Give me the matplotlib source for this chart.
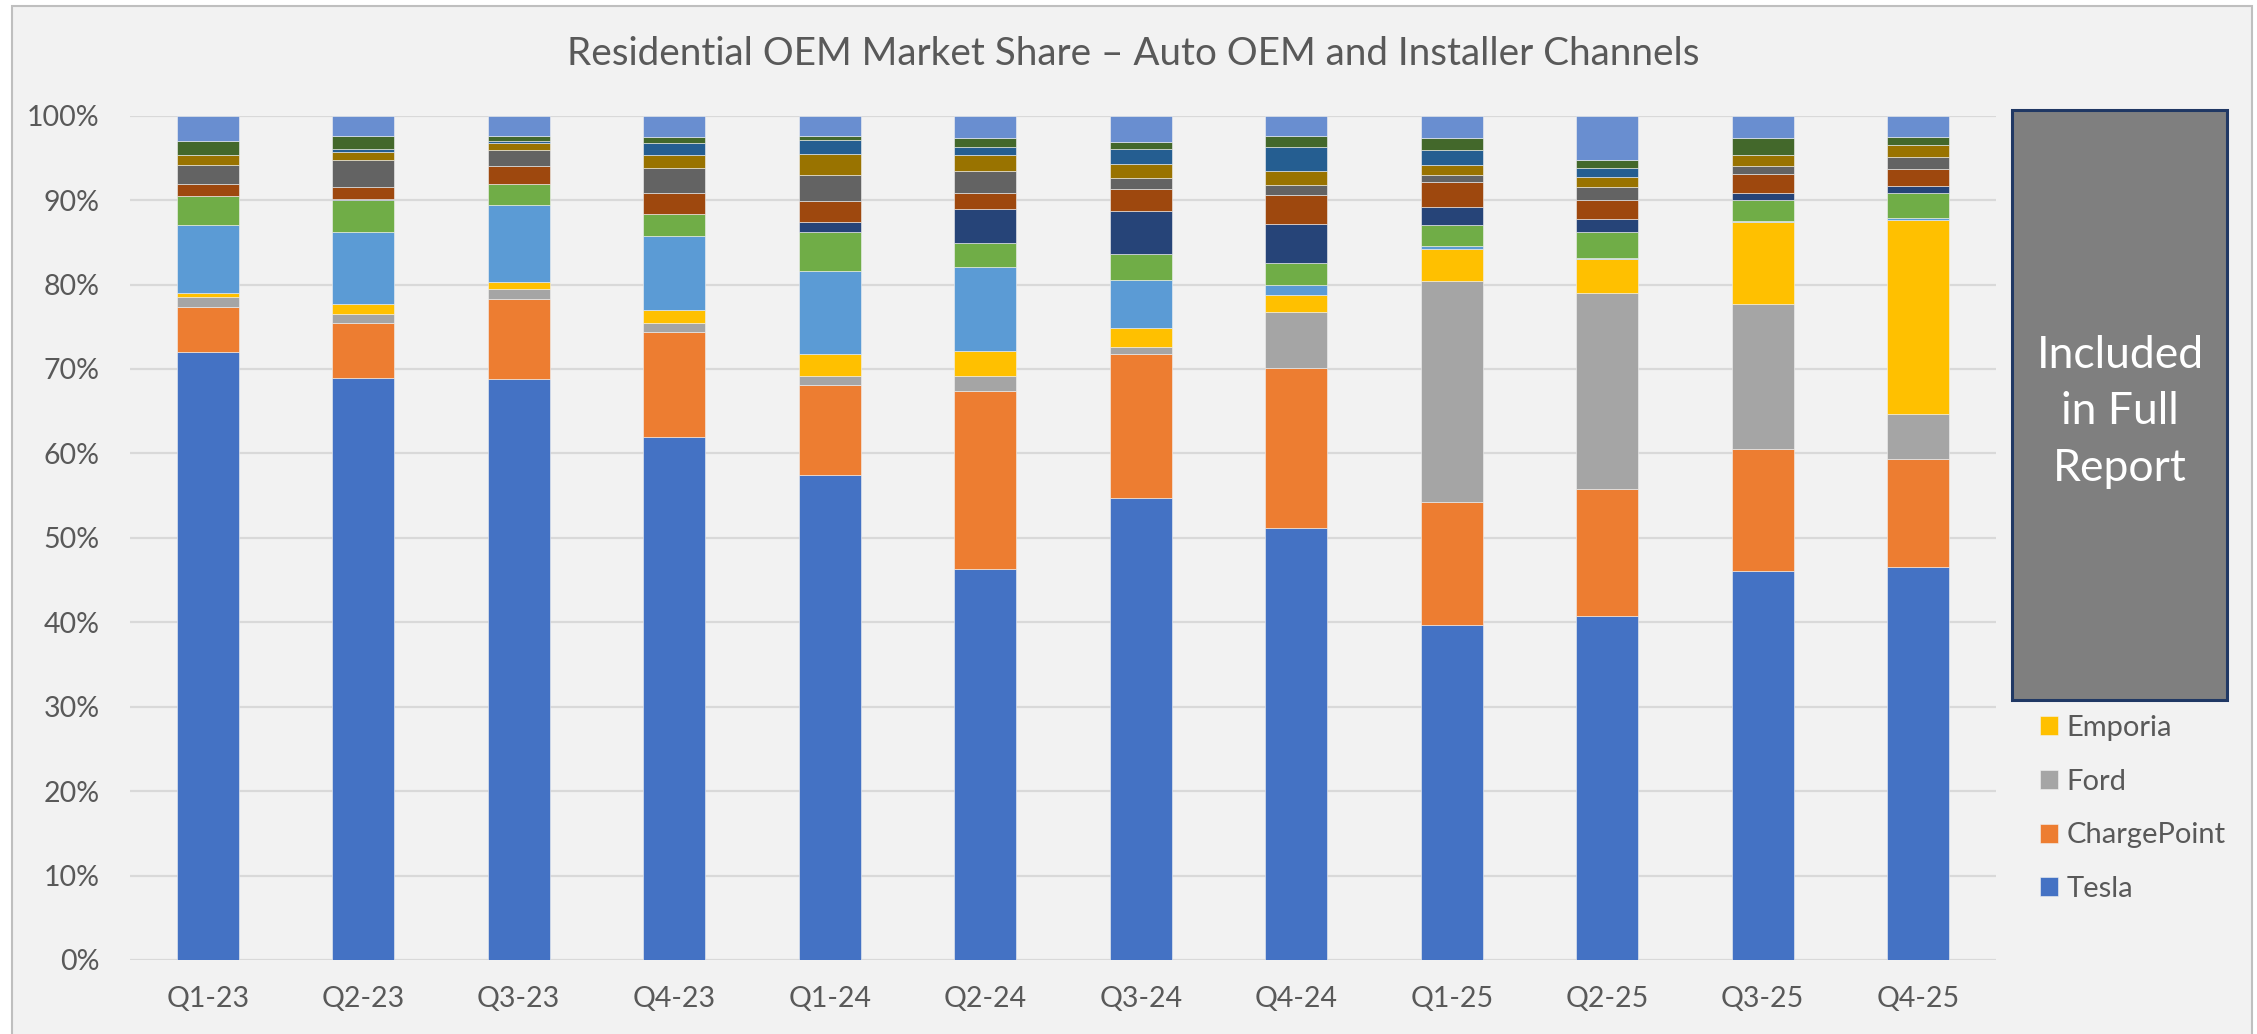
import matplotlib
matplotlib.use("Agg")
import matplotlib.pyplot as plt
from matplotlib.patches import Rectangle
import numpy as np

plt.rcParams['font.family'] = ['Lato', 'DejaVu Sans']

quarters = ["Q1-23", "Q2-23", "Q3-23", "Q4-23", "Q1-24", "Q2-24",
            "Q3-24", "Q4-24", "Q1-25", "Q2-25", "Q3-25", "Q4-25"]

# shares in %, bottom to top
tesla       = [72.0, 68.9, 68.8, 61.9, 57.4, 46.3, 54.7, 51.2, 39.7, 40.8, 46.1, 46.6]
chargepoint = [5.4, 6.6, 9.5, 12.5, 10.7, 21.1, 17.1, 18.9, 14.5, 15.0, 14.4, 12.7]
ford        = [1.1, 1.0, 1.2, 1.1, 1.1, 1.8, 0.8, 6.6, 26.2, 23.2, 17.2, 5.4]
emporia     = [0.5, 1.2, 0.8, 1.5, 2.6, 2.9, 2.3, 2.1, 3.8, 4.0, 9.7, 23.0]
# remaining OEMs (hidden behind the "full report" box in the legend)
oem_5  = [8.1, 8.5, 9.1, 8.8, 9.8, 10.0, 5.6, 1.2, 0.4, 0.2, 0.1, 0.2]
oem_6  = [3.4, 3.8, 2.5, 2.5, 4.6, 2.8, 3.1, 2.5, 2.5, 3.0, 2.5, 3.0]
oem_7  = [0.0, 0.1, 0.0, 0.0, 1.2, 4.1, 5.1, 4.7, 2.1, 1.6, 0.9, 0.8]
oem_8  = [1.4, 1.4, 2.1, 2.5, 2.5, 1.9, 2.6, 3.4, 2.9, 2.2, 2.2, 2.0]
oem_9  = [2.3, 3.2, 1.9, 3.0, 3.1, 2.6, 1.3, 1.2, 0.9, 1.5, 1.0, 1.4]
oem_10 = [1.1, 1.0, 0.9, 1.6, 2.5, 1.8, 1.7, 1.6, 1.2, 1.2, 1.2, 1.4]
oem_11 = [0.1, 0.3, 0.2, 1.4, 1.6, 1.0, 1.7, 2.9, 1.7, 1.1, 0.0, 0.0]
oem_12 = [1.6, 1.6, 0.6, 0.7, 0.5, 1.0, 0.9, 1.3, 1.5, 1.0, 2.0, 1.0]
oem_13 = [3.0, 2.4, 2.4, 2.5, 2.4, 2.7, 3.1, 2.4, 2.6, 5.2, 2.7, 2.5]

series = [
    ("Tesla", tesla, "#4472C4"),
    ("ChargePoint", chargepoint, "#ED7D31"),
    ("Ford", ford, "#A5A5A5"),
    ("Emporia", emporia, "#FFC000"),
    ("OEM 5", oem_5, "#5B9BD5"),
    ("OEM 6", oem_6, "#70AD47"),
    ("OEM 7", oem_7, "#264478"),
    ("OEM 8", oem_8, "#9E480E"),
    ("OEM 9", oem_9, "#636363"),
    ("OEM 10", oem_10, "#997300"),
    ("OEM 11", oem_11, "#255E91"),
    ("OEM 12", oem_12, "#43682B"),
    ("OEM 13", oem_13, "#698ED0"),
]

txt = "#595959"
W, H = 2257, 1034
fig = plt.figure(figsize=(W / 100, H / 100), dpi=100, facecolor="white")

# chart area background + border
fig.patches.append(Rectangle((12 / W, -0.01), (2252 - 12) / W, 1 - 6 / H + 0.01,
                             transform=fig.transFigure, facecolor="#F2F2F2",
                             edgecolor="#BFBFBF", lw=1.5, zorder=-5))

ax = fig.add_axes([130 / W, 1 - 960 / H, (1996 - 130) / W, (960 - 115.7) / H])
ax.set_facecolor("none")
ax.set_zorder(1)

x = np.arange(len(quarters))
bottom = np.zeros(len(quarters))
bars = {}
for name, vals, col in series:
    bars[name] = ax.bar(x, vals, 0.4, bottom=bottom, color=col,
                        edgecolor="#F2F2F2", linewidth=0.4, zorder=3, label=name)
    bottom += np.array(vals)

ax.set_xlim(-0.5, len(quarters) - 0.5)
ax.set_ylim(0, 100)
ax.set_yticks(np.arange(0, 101, 10))
ax.set_yticklabels([f"{v}%" for v in range(0, 101, 10)])
ax.set_xticks(x)
ax.set_xticklabels(quarters)
ax.grid(axis="y", color="#D9D9D9", lw=1.6, zorder=0)
ax.set_axisbelow(True)
for s in ax.spines.values():
    s.set_visible(False)
ax.tick_params(axis="y", length=0, pad=22, labelsize=20.5, labelcolor=txt)
ax.tick_params(axis="x", length=0, pad=19, labelsize=20.5, labelcolor=txt)

fig.text(1133 / W, 1 - 54 / H, "Residential OEM Market Share \u2013 Auto OEM and Installer Channels",
         ha="center", va="center", fontsize=27.8, color=txt)

leg_names = ["Emporia", "Ford", "ChargePoint", "Tesla"]
fig.legend([bars[n] for n in leg_names], leg_names, loc="upper left",
           bbox_to_anchor=(2040 / W, 1 - 715 / H), frameon=False, fontsize=21,
           labelcolor=txt, borderpad=0, borderaxespad=0, handlelength=0.62,
           handleheight=0.62, handletextpad=0.3, labelspacing=0.95)

# box that covers the rest of the legend
fig.patches.append(Rectangle((2012 / W, 1 - 700 / H), 215 / W, (700 - 110) / H,
                             transform=fig.transFigure, facecolor="#7F7F7F",
                             edgecolor="#203864", lw=2.2, zorder=5))
fig.text(2120 / W, 1 - 412 / H, "Included\nin Full\nReport", ha="center", va="center",
         fontsize=32, color="white", linespacing=1.48, zorder=6)

fig.savefig("out.png", dpi=100, facecolor=fig.get_facecolor())
